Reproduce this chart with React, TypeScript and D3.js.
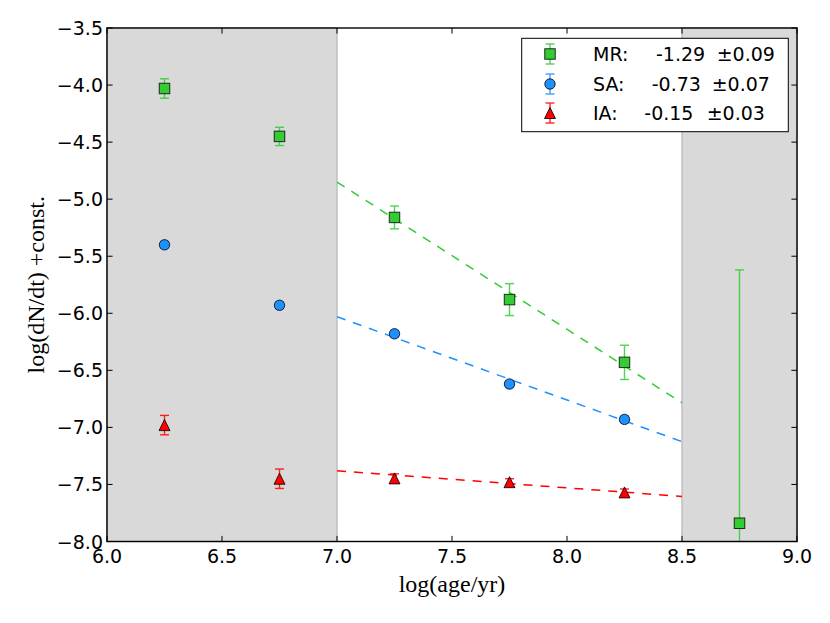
import React from "react";
import * as d3 from "d3";

// ---- data ----
const ageBins = [6.25, 6.75, 7.25, 7.75, 8.25, 8.75];
const mrValues = [-4.03, -4.45, -5.16, -5.88, -6.43, -7.84];
const mrErrors = [0.085, 0.08, 0.1, 0.14, 0.15, 2.22];
const saAges = [6.25, 6.75, 7.25, 7.75, 8.25];
const saValues = [-5.4, -5.93, -6.18, -6.62, -6.93];
const saErrors = [0.03, 0.03, 0.03, 0.03, 0.03];
const iaAges = [6.25, 6.75, 7.25, 7.75, 8.25];
const iaValues = [-6.98, -7.45, -7.447, -7.48, -7.57];
const iaErrors = [0.085, 0.085, 0.04, 0.03, 0.03];
const fitX = [7.0, 8.5];
const mrFit = [-4.85, -6.785];
const saFit = [-6.03, -7.125];
const iaFit = [-7.38, -7.605];
const shadedSpans = [
  [6.0, 7.0],
  [8.5, 9.0],
];
const xTicks = [6.0, 6.5, 7.0, 7.5, 8.0, 8.5, 9.0];
const yTicks = [-3.5, -4.0, -4.5, -5.0, -5.5, -6.0, -6.5, -7.0, -7.5, -8.0];
const legendLabels = ["MR:", "SA:", "IA:"];
const legendSlopes = ["-1.29", "-0.73", "-0.15"];
const legendErrs = ["\u00b10.09", "\u00b10.07", "\u00b10.03"];

const GREEN = "#33cc33";
const BLUE = "#1e90ff";
const RED = "#ff0000";

const W = 830;
const H = 623;
const L = 107;
const R = 797;
const T = 28;
const B = 541.5;

const x = d3.scaleLinear().domain([6, 9]).range([L, R]);
const y = d3.scaleLinear().domain([-8, -3.5]).range([B, T]);

const fmt = (v: number) => d3.format(".1f")(v).replace("-", "\u2212");

const line = d3
  .line<[number, number]>()
  .x((d) => x(d[0]))
  .y((d) => y(d[1]));

function ErrBar({ cx, top, bot, color }: { cx: number; top: number; bot: number; color: string }) {
  const cap = 4.5;
  return (
    <g stroke={color} strokeWidth={1.4} opacity={0.85}>
      <line x1={cx} x2={cx} y1={top} y2={bot} />
      <line x1={cx - cap} x2={cx + cap} y1={top} y2={top} />
      <line x1={cx - cap} x2={cx + cap} y1={bot} y2={bot} />
    </g>
  );
}

function Marker({ kind, cx, cy, color }: { kind: string; cx: number; cy: number; color: string }) {
  if (kind === "s") {
    const s = 10.5;
    return <rect x={cx - s / 2} y={cy - s / 2} width={s} height={s} fill={color} stroke="#000" strokeWidth={1} strokeOpacity={0.8} />;
  }
  if (kind === "o") {
    return <circle cx={cx} cy={cy} r={5.2} fill={color} stroke="#000" strokeWidth={1} strokeOpacity={0.8} />;
  }
  const h = 5.5;
  const p = `M${cx},${cy - h} L${cx - h},${cy + h} L${cx + h},${cy + h} Z`;
  return <path d={p} fill={color} stroke="#000" strokeWidth={1} strokeOpacity={0.8} />;
}

function Series({ xs, vs, es, kind, color }: { xs: number[]; vs: number[]; es: number[]; kind: string; color: string }) {
  return (
    <g>
      {xs.map((xv, i) => (
        <ErrBar key={"e" + i} cx={x(xv)} top={y(vs[i] + es[i])} bot={y(vs[i] - es[i])} color={color} />
      ))}
      {xs.map((xv, i) => (
        <Marker key={"m" + i} kind={kind} cx={x(xv)} cy={y(vs[i])} color={color} />
      ))}
    </g>
  );
}

export default function App() {
  const fits: [number[], string][] = [
    [mrFit, GREEN],
    [saFit, BLUE],
    [iaFit, RED],
  ];
  const legendColors = [GREEN, BLUE, RED];
  const legendKinds = ["s", "o", "^"];
  const legendRows = [54, 84, 113];
  const slopeX = [656, 651.7, 644.3];
  const errX = [716.7, 711.7, 706.7];
  return (
    <svg width={W} height={H} style={{ position: "absolute", left: 0, top: 0, background: "#fff" }} fontFamily="DejaVu Sans">
      <defs>
        <clipPath id="plot">
          <rect x={L} y={T} width={R - L} height={B - T} />
        </clipPath>
      </defs>
      <rect x={0} y={0} width={W} height={H} fill="#fff" />
      {shadedSpans.map((s, i) => (
        <rect key={i} x={x(s[0])} y={T} width={x(s[1]) - x(s[0])} height={B - T} fill="#d9d9d9" stroke="#bdbdbd" strokeWidth={1.4} />
      ))}
      <g clipPath="url(#plot)">
        {fits.map(([f, c], i) => (
          <path
            key={i}
            d={line(fitX.map((xv, j) => [xv, f[j]] as [number, number])) || ""}
            fill="none"
            stroke={c}
            strokeWidth={1.5}
            strokeDasharray="9,8"
          />
        ))}
        <Series xs={ageBins} vs={mrValues} es={mrErrors} kind="s" color={GREEN} />
        <Series xs={saAges} vs={saValues} es={saErrors} kind="o" color={BLUE} />
        <Series xs={iaAges} vs={iaValues} es={iaErrors} kind="^" color={RED} />
      </g>
      {/* ticks */}
      <g stroke="#000" strokeWidth={1}>
        {xTicks.map((t) => (
          <g key={"xt" + t}>
            <line x1={x(t)} x2={x(t)} y1={B} y2={B - 5.6} />
            <line x1={x(t)} x2={x(t)} y1={T} y2={T + 5.6} />
          </g>
        ))}
        {yTicks.map((t) => (
          <g key={"yt" + t}>
            <line x1={L} x2={L + 5.6} y1={y(t)} y2={y(t)} />
            <line x1={R} x2={R - 5.6} y1={y(t)} y2={y(t)} />
          </g>
        ))}
      </g>
      <rect x={L} y={T} width={R - L} height={B - T} fill="none" stroke="#000" strokeWidth={1.4} />
      {xTicks.map((t) => (
        <text key={"xl" + t} x={x(t)} y={B + 21.5} textAnchor="middle" fontSize={19}>
          {fmt(t)}
        </text>
      ))}
      {yTicks.map((t) => (
        <text key={"yl" + t} x={L - 4} y={y(t) + 7} textAnchor="end" fontSize={19}>
          {fmt(t)}
        </text>
      ))}
      <text x={(L + R) / 2} y={592} textAnchor="middle" fontFamily="Liberation Serif" fontSize={24}>
        log(age/yr)
      </text>
      <text
        transform={`translate(44,${(T + B) / 2}) rotate(-90)`}
        textAnchor="middle"
        fontFamily="Liberation Serif"
        fontSize={24}
      >
        log(dN/dt) +const.
      </text>
      {/* legend */}
      <rect x={521.7} y={38.3} width={266.6} height={93.4} fill="#fff" stroke="#000" strokeWidth={1} />
      {legendLabels.map((lab, i) => {
        const cy = legendRows[i];
        return (
          <g key={lab}>
            <ErrBar cx={550} top={cy - 10} bot={cy + 10} color={legendColors[i]} />
            <Marker kind={legendKinds[i]} cx={550} cy={cy} color={legendColors[i]} />
            <text x={593} y={cy + 7} fontSize={19}>
              {lab}
            </text>
            <text x={slopeX[i]} y={cy + 7} fontSize={19}>
              {legendSlopes[i]}
            </text>
            <text x={errX[i]} y={cy + 7} fontSize={19}>
              {legendErrs[i]}
            </text>
          </g>
        );
      })}
    </svg>
  );
}
